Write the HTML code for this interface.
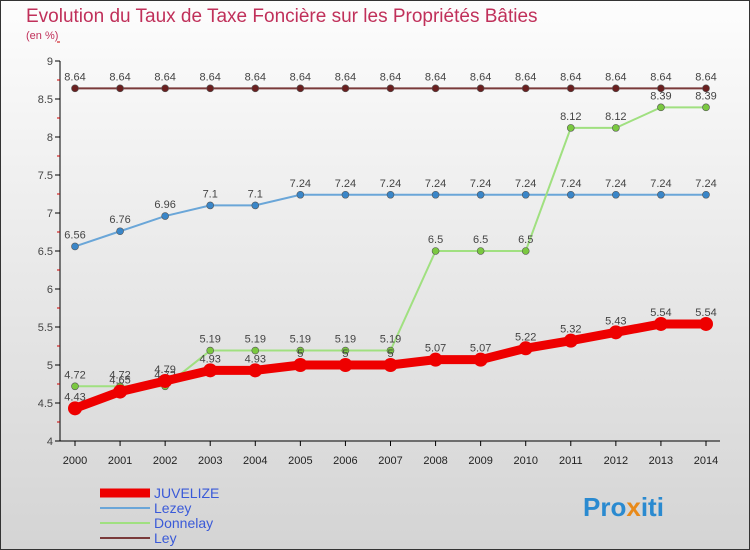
<!DOCTYPE html>
<html><head><meta charset="utf-8"><style>
body{margin:0;width:750px;height:550px;overflow:hidden;font-family:"Liberation Sans",sans-serif}
svg{display:block}
</style></head><body>
<svg id="c" width="750" height="550" xmlns="http://www.w3.org/2000/svg">
<defs><linearGradient id="bg" x1="0" y1="0" x2="0" y2="1"><stop offset="0" stop-color="#fdfdfd"/><stop offset="1" stop-color="#d4d4d4"/></linearGradient></defs>
<rect x="0.5" y="0.5" width="749" height="549" fill="url(#bg)" stroke="#333"/>
<text x="26" y="22" font-size="19" fill="#c0305a">Evolution du Taux de Taxe Foncière sur les Propriétés Bâties</text>
<text x="26" y="39" font-size="11" fill="#c0305a">(en %)</text>
<g id="axes"></g><g id="series"></g><g id="legend"></g>
<text x="583" y="516" font-size="26" font-weight="bold" fill="#2a8ad0">Pro<tspan fill="#e88a1a">x</tspan>iti</text>
</svg>
<script>
const years=[2000,2001,2002,2003,2004,2005,2006,2007,2008,2009,2010,2011,2012,2013,2014];
const yTicks=[4,4.5,5,5.5,6,6.5,7,7.5,8,8.5,9];
const juvelize=[4.43,4.65,4.79,4.93,4.93,5,5,5,5.07,5.07,5.22,5.32,5.43,5.54,5.54];
const lezey=[6.56,6.76,6.96,7.1,7.1,7.24,7.24,7.24,7.24,7.24,7.24,7.24,7.24,7.24,7.24];
const donnelay=[4.72,4.72,4.72,5.19,5.19,5.19,5.19,5.19,6.5,6.5,6.5,8.12,8.12,8.39,8.39];
const ley=[8.64,8.64,8.64,8.64,8.64,8.64,8.64,8.64,8.64,8.64,8.64,8.64,8.64,8.64,8.64];
const NS="http://www.w3.org/2000/svg";
const X=i=>75+i*(706-75)/(years.length-1);
const Y=v=>441-(v-4)*(441-61)/5;
function mk(t,a,p){const e=document.createElementNS(NS,t);for(const k in a)e.setAttribute(k,a[k]);p.appendChild(e);return e;}
const ax=document.getElementById('axes');
const yl=mk('line',{x1:60,y1:61,x2:60,y2:441,stroke:'#000'},ax);


const xl=mk('line',{x1:60,y1:441,x2:720,y2:441,stroke:'#000'},ax);


yTicks.forEach(v=>{
 mk('line',{x1:55,y1:Y(v),x2:60,y2:Y(v),stroke:'#000'},ax);
 mk('line',{x1:57,y1:Y(v+0.25),x2:60,y2:Y(v+0.25),stroke:'#c00'},ax);
 const t=mk('text',{x:53,y:Y(v)+4,'font-size':11,'text-anchor':'end',fill:'#444'},ax);t.textContent=v;
 
 
});
years.forEach((y,i)=>{
 mk('line',{x1:X(i),y1:441,x2:X(i),y2:446,stroke:'#000'},ax);
 const t=mk('text',{x:X(i),y:464,'font-size':11,'text-anchor':'middle',fill:'#222'},ax);t.textContent=y;
 
 
});
const sg=document.getElementById('series');
function series(name,vals,col,mcol,w,r){
 const g=mk('g',{},sg);
 
 
 const l=mk('polyline',{points:vals.map((v,i)=>X(i)+','+Y(v)).join(' '),fill:'none',stroke:col,'stroke-width':w},g);
 
 
 vals.forEach((v,i)=>{
  const c=mk('circle',{cx:X(i),cy:Y(v),r:r,fill:mcol,stroke:'#555','stroke-width':r>5?0:0.6},g);
  
  
  const t=mk('text',{x:X(i),y:Y(v)-8,'font-size':11,'text-anchor':'middle',fill:'#444'},g);t.textContent=v;
  
  
 });
}
series('ley',ley,'#7a3a3a','#6a2020',2,3.5);
series('lezey',lezey,'#6aa6d8','#3a86c8',2,3.5);
series('donnelay',donnelay,'#a0e080','#7ac840',2,3.5);
series('juvelize',juvelize,'#ee0000','#ee0000',9,7);
const lg=document.getElementById('legend');
const items=[['JUVELIZE','#ee0000',9],['Lezey','#6aa6d8',2],['Donnelay','#a0e080',2],['Ley','#7a3a3a',2]];
items.forEach((it,i)=>{
 const y=493+i*15;
 const l=mk('line',{x1:100,y1:y,x2:150,y2:y,stroke:it[1],'stroke-width':it[2]},lg);
 
 
 const t=mk('text',{x:154,y:y+5,'font-size':14,fill:'#3a5ad8'},lg);t.textContent=it[0];
 
 
});
</script>
</body></html>
